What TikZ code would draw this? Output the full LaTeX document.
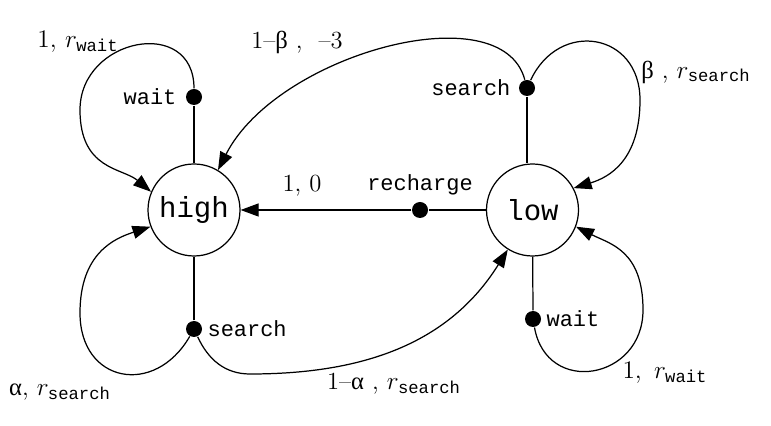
\documentclass[tikz,border=0pt]{standalone}
\usepackage{fontspec}
\setmonofont{Liberation Mono}
\newfontfamily\grk{Liberation Serif}
\usetikzlibrary{positioning,arrows.meta}

\begin{document}
\begin{tikzpicture}[line width=0.7pt,
        state/.style={draw, circle, minimum size=1.84cm, inner sep=0pt, font=\fontsize{16.5}{18}\ttfamily},
        dot/.style={circle, fill=black, minimum size=0.32cm, inner sep=0pt},
        act/.style={font=\fontsize{12.5}{14}\ttfamily},
        lab/.style={font=\fontsize{14}{16}\selectfont},
        tr/.style={-{Triangle[length=0.36cm,width=0.26cm]}}]
        \useasboundingbox (0,0) rectangle (15.42,8.52);
        \node[state] (high) at (3.88,4.32) {high};
        \node[state] (low) at (10.65,4.32) {low};
        \foreach \name/\x/\y in {hwait/3.88/6.58, hsearch/3.88/1.94, lsearch/10.54/6.76, lwait/10.66/2.14, recharge/8.40/4.32}{\node[dot] (\name) at (\x,\y) {};}
        % action names
        \node[act, left=0.05cm of hwait] (thw) {wait};
        \node[act, right=-0.03cm of hsearch] (ths) {search};
        \node[act, left=0.03cm of lsearch] (tls) {search};
        \node[act, right=-0.03cm of lwait] (tlw) {wait};
        \node[act, above=0pt of recharge] (tlr) {recharge};
        % state to action
        \draw (hwait) -- (high);
        \draw (hsearch) -- (high);
        \draw (lsearch) -- (lsearch |- low.north);
        \draw (lwait) -- (low);
        \draw (low) -- (recharge);
        % transitions
        \draw[tr] (recharge) -- (high);
        \draw[tr] (hwait) to[out=90,in=90,distance=1.45cm] ++(-2.28,-0.26) to[out=-90,in=140,out distance=1.2cm,in distance=0.75cm] (high.157);
        \draw[tr] (hsearch) to[out=240,in=-90,distance=1.4cm] ++(-2.28,0.32) to[out=90,in=198,out distance=1.2cm,in distance=0.75cm] (high.201);
        \draw[tr] (hsearch) to[out=295,in=180] ++(1.12,-0.9) to[out=0,in=238] (low.238);
        \draw[tr] (lsearch) to[out=105,in=63,out distance=1.8cm,in distance=2.6cm] (high.59);
        \draw[tr] (lsearch) to[out=65,in=90,distance=1.35cm] ++(2.26,-0.24) to[out=-90,in=17,out distance=1.2cm,in distance=0.75cm] (low.28);
        \draw[tr] (lwait) to[out=280,in=-90,distance=1.4cm] ++(2.2,0.18) to[out=90,in=333,out distance=1.2cm,in distance=0.75cm] (low.339);
        % probabilities and rewards
        \node[lab] (phw) at (1.56,7.68) {$1,\, r_{\mathtt{wait}}$};
        \node[lab] (pls) at (5.94,7.68) {1--{\grk β} ,\ \ --3};
        \node[lab] (plb) at (13.92,7.08) {{\grk β} , $r_{\mathtt{search}}$};
        \node[lab] (plr) at (6.04,4.80) {1,\ 0};
        \node[lab] (pha) at (1.20,0.68) {{\grk α}, $r_{\mathtt{search}}$};
        \node[lab] (phs) at (7.88,0.84) {1--{\grk α} , $r_{\mathtt{search}}$};
        \node[lab] (plw) at (13.30,1.06) {$1,\ r_{\mathtt{wait}}$};
\end{tikzpicture}
\end{document}
